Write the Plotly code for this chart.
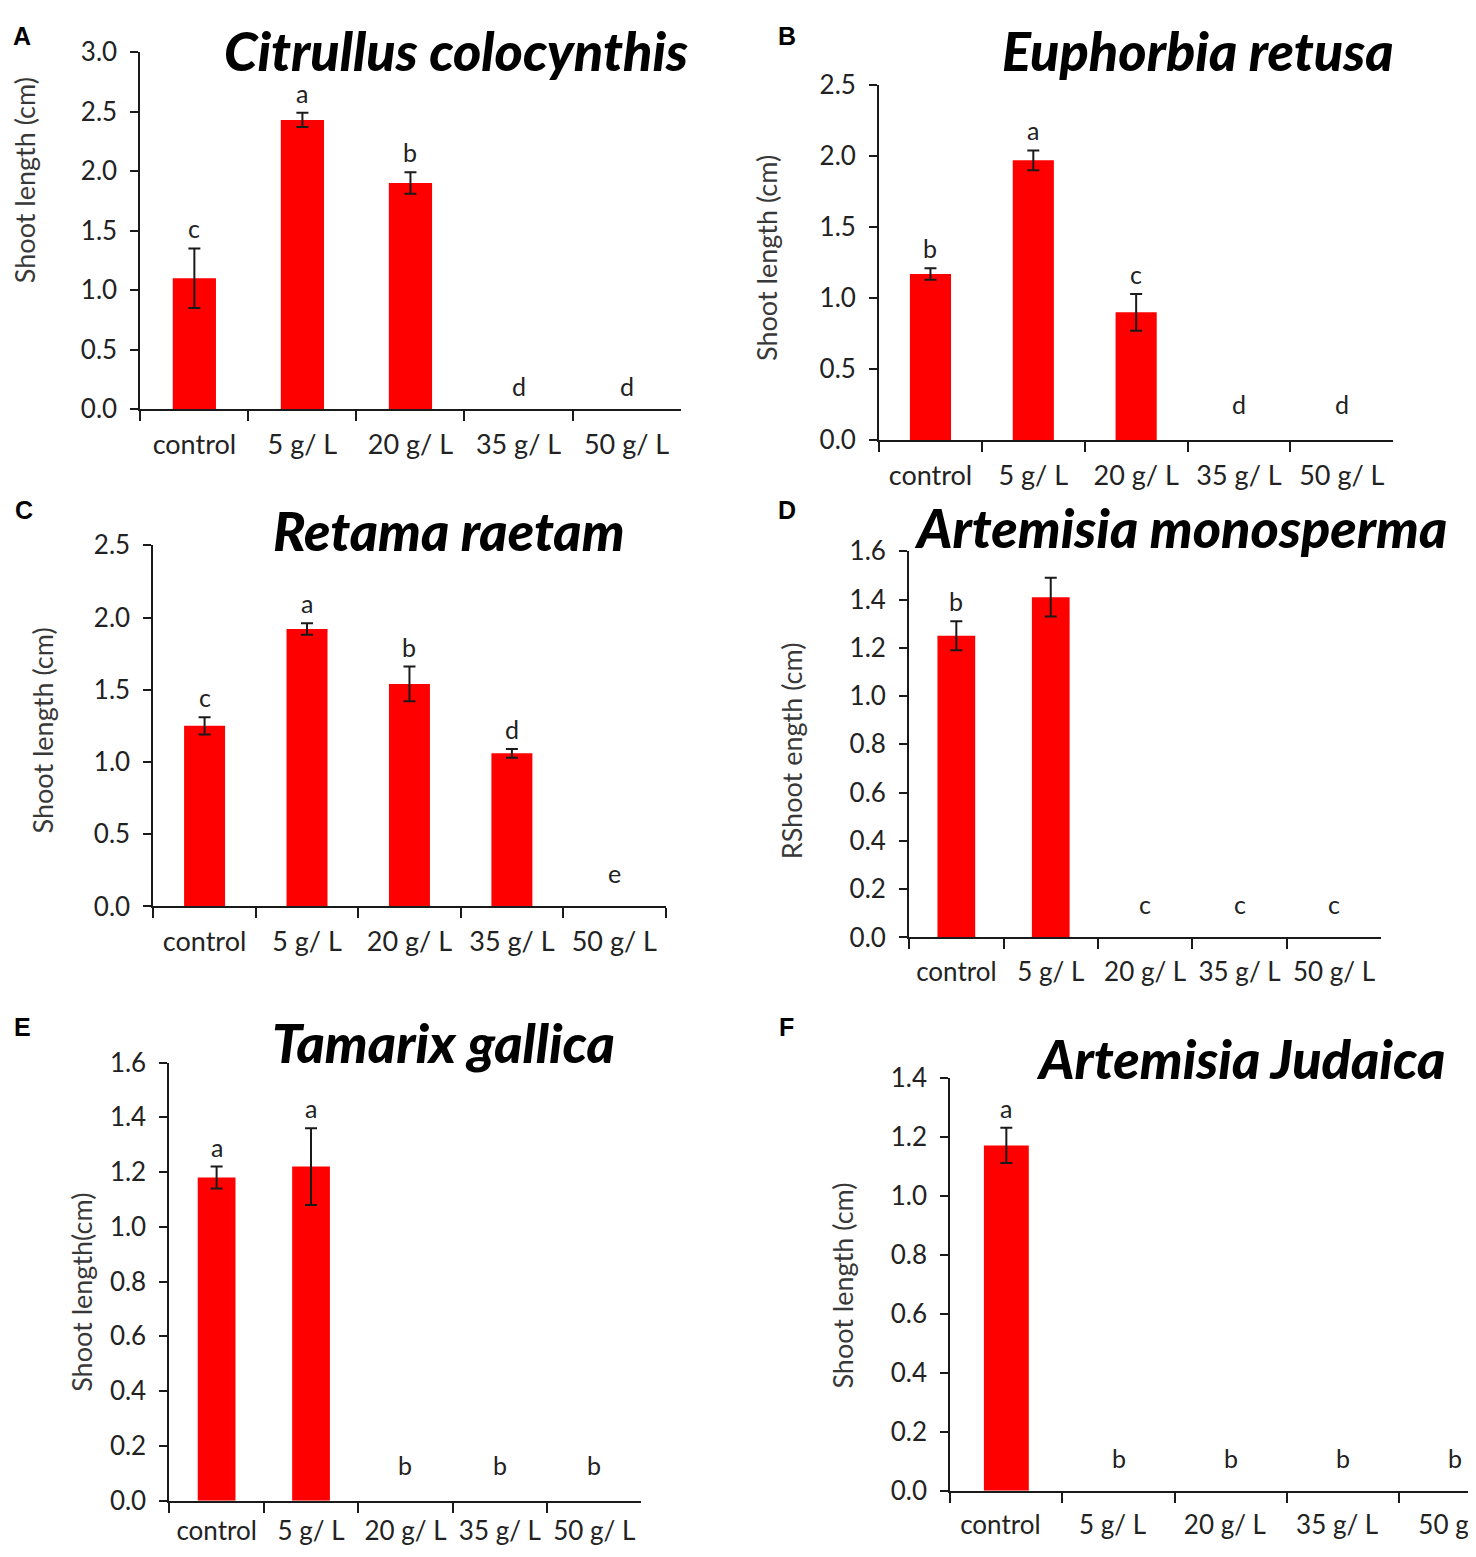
import plotly.graph_objects as go

# treatments on the x axis
categories = ["control", "5 g/ L", "20 g/ L", "35 g/ L", "50 g/ L"]
# panel F is cut at the right edge of the picture, only "50 g/" shows
categories_f_shown = ["control", "5 g/ L", "20 g/ L", "35 g/ L", "50 g/"]

species = [
    "Citrullus colocynthis",
    "Euphorbia retusa",
    "Retama raetam",
    "Artemisia monosperma",
    "Tamarix gallica",
    "Artemisia Judaica",
]
panel_tags = ["A", "B", "C", "D", "E", "F"]
y_titles = [
    "Shoot length (cm)",
    "Shoot length (cm)",
    "Shoot length (cm)",
    "RShoot ength (cm)",
    "Shoot length(cm)",
    "Shoot length (cm)",
]

# mean shoot length (cm) and error
citrullus_mean = [1.10, 2.43, 1.90, 0, 0]
citrullus_err = [0.25, 0.06, 0.09, 0, 0]
citrullus_letters = ["c", "a", "b", "d", "d"]

euphorbia_mean = [1.17, 1.97, 0.90, 0, 0]
euphorbia_err = [0.04, 0.07, 0.13, 0, 0]
euphorbia_letters = ["b", "a", "c", "d", "d"]

retama_mean = [1.25, 1.92, 1.54, 1.06, 0]
retama_err = [0.06, 0.04, 0.12, 0.03, 0]
retama_letters = ["c", "a", "b", "d", "e"]

monosperma_mean = [1.25, 1.41, 0, 0, 0]
monosperma_err = [0.06, 0.08, 0, 0, 0]
monosperma_letters = ["b", "", "c", "c", "c"]

tamarix_mean = [1.18, 1.22, 0, 0, 0]
tamarix_err = [0.04, 0.14, 0, 0, 0]
tamarix_letters = ["a", "a", "b", "b", "b"]

judaica_mean = [1.17, 0, 0, 0, 0]
judaica_err = [0.06, 0, 0, 0, 0]
judaica_letters = ["a", "b", "b", "b", "b"]

y_max = [3.0, 2.5, 2.5, 1.6, 1.6, 1.4]
y_step = [0.5, 0.5, 0.5, 0.2, 0.2, 0.2]

means = [citrullus_mean, euphorbia_mean, retama_mean, monosperma_mean, tamarix_mean, judaica_mean]
errs = [citrullus_err, euphorbia_err, retama_err, monosperma_err, tamarix_err, judaica_err]
letters = [citrullus_letters, euphorbia_letters, retama_letters,
           monosperma_letters, tamarix_letters, judaica_letters]

W, H = 1476, 1557

# the page puts a small margin round the figure and the snapshot is squeezed
# back to size, so positions wanted in the picture are mapped to figure pixels
OFF_X, SC_X = 8.0, 0.997
OFF_Y, SC_Y = 25.5, 0.979


def fx(x):
    return min(max(x / SC_X - OFF_X, 0), W)


def fy(y):
    return min(max(y / SC_Y - OFF_Y, 0), H)


def px(x):
    return fx(x) / W


def py(y):
    return 1 - fy(y) / H


# plot areas in picture pixels: left, right, top, bottom
boxes = [
    (140, 679, 52, 409),
    (877, 1390, 85, 440),
    (153, 664, 545, 906),
    (907, 1378, 551, 937),
    (169, 640, 1062, 1500),
    (948, 1476, 1077, 1490),
]
cat_step_f = 112  # picture pixels of one category in panel F
# positions of title, tag and y title in picture pixels
title_pos = [(455, 50), (1195, 50), (448, 530), (1178, 527), (442, 1042), (1238, 1058)]
tag_pos = [(22, 36), (785, 36), (24, 510), (785, 510), (22, 1027), (785, 1027)]
ytitle_pos = [(24, 180), (764, 258), (42, 730), (790, 750), (81, 1292), (841, 1285)]
x_label_gap = [10, 10, 10, 10, 6, 10]
x_label_size = [27, 27, 27, 26, 26, 26]
zero_letter_lift = [6, 19, 16, 16, 19, 16]

FONT = "Lato, Open Sans, sans-serif"

fig = go.Figure()
annotations = []

for i in range(6):
    n = "" if i == 0 else str(i + 1)
    xa, ya = "x" + n, "y" + n
    left, right, top, bottom = boxes[i]

    bar_y = [v if v > 0 else None for v in means[i]]
    err_arr = [e if e > 0 else None for e in errs[i]]
    fig.add_trace(go.Bar(
        x=categories, y=bar_y, xaxis=xa, yaxis=ya,
        marker=dict(color="#ff0000", line=dict(width=0)),
        width=0.4,
        error_y=dict(type="data", array=err_arr, visible=True,
                     color="#1a1a1a", thickness=2, width=6),
        showlegend=False,
    ))

    x_range = [-0.5, 4.5]
    tick_text = categories
    label_shift = 0
    if i == 5:
        # last panel is cut by the picture edge
        x_range = [-0.5, -0.5 + (fx(right) - fx(left)) / (cat_step_f / SC_X)]
        tick_text = categories_f_shown
        label_shift = -6

    fig.update_layout({
        "xaxis" + n: dict(
            domain=[px(left), px(right)], anchor=ya, type="category",
            range=x_range, showline=True, linecolor="#1a1a1a", linewidth=2,
            ticks="outside", tickson="boundaries", ticklen=10, tickwidth=2,
            tickcolor="#1a1a1a", showgrid=False, zeroline=False,
            tickmode="array", tickvals=categories, ticktext=tick_text,
            tickangle=0, ticklabelshift=label_shift,
            tickfont=dict(family=FONT, size=x_label_size[i], color="#222222"),
            ticklabelstandoff=x_label_gap[i],
        ),
        "yaxis" + n: dict(
            domain=[py(bottom), py(top)], anchor=xa,
            range=[0, y_max[i]], dtick=y_step[i], tickformat=".1f",
            showline=True, linecolor="#1a1a1a", linewidth=2,
            ticks="outside", ticklen=8, tickwidth=2, tickcolor="#1a1a1a",
            showgrid=False, zeroline=False,
            tickfont=dict(family=FONT, size=26, color="#222222"),
            ticklabelstandoff=8,
        ),
    })

    # significance letters above bars
    for j, lab in enumerate(letters[i]):
        if not lab:
            continue
        top_val = means[i][j] + errs[i][j]
        annotations.append(dict(
            x=categories[j], y=top_val, xref=xa, yref=ya,
            text=lab, showarrow=False, yanchor="bottom",
            yshift=3 if top_val > 0 else zero_letter_lift[i],
            font=dict(family=FONT, size=25, color="#222222"),
        ))

    annotations.append(dict(
        x=px(title_pos[i][0]), y=py(title_pos[i][1]), xref="paper", yref="paper",
        text=species[i], showarrow=False,
        xanchor="center", yanchor="middle",
        font=dict(family=FONT, size=54, color="#000000", weight=900, style="italic"),
    ))
    annotations.append(dict(
        x=px(tag_pos[i][0]), y=py(tag_pos[i][1]), xref="paper", yref="paper",
        text="<b>" + panel_tags[i] + "</b>", showarrow=False,
        xanchor="center", yanchor="middle",
        font=dict(family="Liberation Sans, Arial, sans-serif", size=25, color="#000000"),
    ))
    annotations.append(dict(
        x=px(ytitle_pos[i][0]), y=py(ytitle_pos[i][1]), xref="paper", yref="paper",
        text=y_titles[i], showarrow=False, textangle=-90,
        xanchor="center", yanchor="middle",
        font=dict(family=FONT, size=27, color="#383838"),
    ))

fig.update_layout(
    width=W, height=H,
    margin=dict(l=0, r=0, t=0, b=0),
    paper_bgcolor="white", plot_bgcolor="white",
    annotations=annotations,
)

fig.write_html("out.html")
